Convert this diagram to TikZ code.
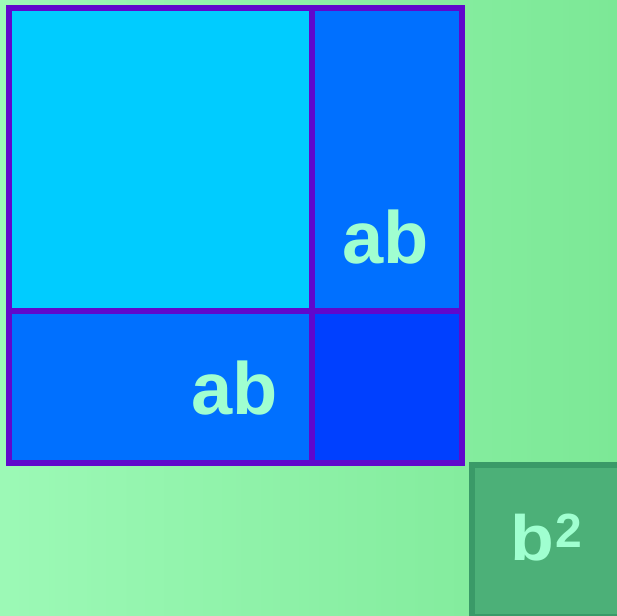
\documentclass[tikz,border=0pt]{standalone}
\usepackage{fontspec}
\setmainfont{Liberation Sans}
\definecolor{bgL}{HTML}{9CF9B6}
\definecolor{bgR}{HTML}{7CE896}
\definecolor{cyanc}{HTML}{00CCFF}
\definecolor{bluec}{HTML}{0070FF}
\definecolor{dblue}{HTML}{0040FF}
\definecolor{edge}{HTML}{6008CC}
\definecolor{gfill}{HTML}{4CB078}
\definecolor{gedge}{HTML}{3A9A68}
\definecolor{mint}{HTML}{A0FFD0}
\begin{document}
\begin{tikzpicture}[x=1pt,y=-1pt,
  cell/.style={draw=edge,line width=6pt},
  lab/.style={text=mint,font=\bfseries\fontsize{74}{74}\selectfont,inner sep=0pt,anchor=base west}]
\useasboundingbox (0,0) rectangle (617,615);
\shade[left color=bgL,right color=bgR] (0,0) rectangle (617,615);
\fill[cyanc] (9,8) rectangle (311.5,311);
\fill[bluec] (311.5,8) rectangle (462,311);
\fill[bluec] (9,311) rectangle (311.5,462.5);
\fill[dblue] (311.5,311) rectangle (462,462.5);
\draw[cell] (9,8) rectangle (462,462.5);
\draw[cell] (311.5,8) -- (311.5,462.5);
\draw[cell] (9,311) -- (462,311);
\begin{scope}
\clip (0,0) rectangle (617,615);
\draw[fill=gfill,draw=gedge,line width=6pt] (472,465) rectangle (622,617);
\end{scope}
\node[lab] (ab1) at (342,263) {ab};
\node[lab] (ab2) at (191,414) {ab};
\node[lab,font=\bfseries\fontsize{64}{64}\selectfont,xscale=1.12] (b) at (510,560) {b};
\node[lab,font=\bfseries\fontsize{48}{48}\selectfont] (two) at (555,547) {2};
\end{tikzpicture}
\end{document}
